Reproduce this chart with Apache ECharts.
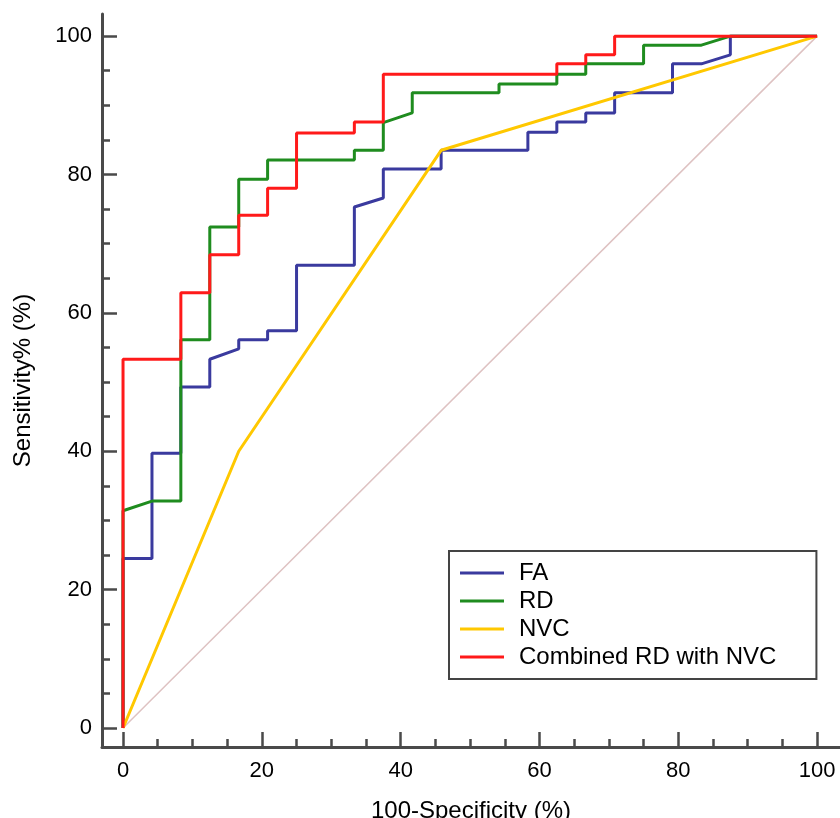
<!DOCTYPE html>
<html>
<head>
<meta charset="utf-8">
<script src="https://cdn.jsdelivr.net/npm/echarts@6/dist/echarts.min.js"></script>
<style>
  html, body { margin: 0; padding: 0; background: #fff; }
  #chart { width: 840px; height: 818px; }
</style>
</head>
<body>
<div id="chart"></div>
<script>
// ROC curves: [100-Specificity, Sensitivity] corner points
var seriesNames = ['FA', 'RD', 'NVC', 'Combined RD with NVC'];
var faPoints = [[0,0],[0,24.5],[4.17,24.5],[4.17,39.7],[8.33,39.7],[8.33,49.3],[12.5,49.3],[12.5,53.3],
    [16.67,54.8],[16.67,56.1],[20.83,56.1],[20.83,57.4],[25,57.4],[25,66.9],[33.33,66.9],[33.33,75.3],
    [37.5,76.6],[37.5,80.8],[45.83,80.8],[45.83,83.5],[58.33,83.5],[58.33,86.1],[62.5,86.1],[62.5,87.6],
    [66.67,87.6],[66.67,88.9],[70.83,88.9],[70.83,91.8],[79.17,91.8],[79.17,96],[83.33,96],[87.5,97.3],
    [87.5,100],[100,100]];
var rdPoints = [[0,0],[0,31.4],[4.17,32.8],[8.33,32.8],[8.33,56.1],[12.5,56.1],[12.5,72.4],[16.67,72.4],
    [16.67,79.3],[20.83,79.3],[20.83,82.1],[33.33,82.1],[33.33,83.5],[37.5,83.5],[37.5,87.5],[41.67,88.9],
    [41.67,91.8],[54.17,91.8],[54.17,93.1],[62.5,93.1],[62.5,94.5],[66.67,94.5],[66.67,96],[75,96],
    [75,98.7],[83.33,98.7],[87.5,100],[100,100]];
var nvcPoints = [[0,0],[16.67,40],[45.83,83.5],[100,100]];
var combinedPoints = [[0,0],[0,53.3],[8.33,53.3],[8.33,62.9],[12.5,62.9],[12.5,68.4],[16.67,68.4],
    [16.67,74.1],[20.83,74.1],[20.83,78],[25,78],[25,86],[33.33,86],[33.33,87.6],[37.5,87.6],[37.5,94.5],
    [62.5,94.5],[62.5,96],[66.67,96],[66.67,97.3],[70.83,97.3],[70.83,100],[100,100]];
var diagonalPoints = [[0,0],[100,100]];

var majorTicks = [0, 20, 40, 60, 80, 100];
var minorTicks = [5, 10, 15, 25, 30, 35, 45, 50, 55, 65, 70, 75, 85, 90, 95];
var colors = ['#3a3a9e', '#1f8c1f', '#ffc800', '#ff1a1a'];

var axisColor = '#4a4a4a';
var fontFamily = '"Liberation Sans", Arial, sans-serif';

function majorAxis(isX) {
    return {
        type: 'value',
        position: isX ? 'bottom' : 'left',
        min: isX ? -3.03 : -2.75,
        max: isX ? 103.3 : 103.2,
        name: isX ? '100-Specificity (%)' : 'Sensitivity% (%)',
        nameLocation: 'middle',
        nameGap: isX ? 52 : 67,
        nameTextStyle: { color: '#000', fontSize: 24, fontFamily: fontFamily },
        axisLine: { show: true, onZero: false, lineStyle: { color: axisColor, width: 3 } },
        axisTick: { show: true, inside: true, length: 15, customValues: majorTicks,
            lineStyle: { color: axisColor, width: 2.5 } },
        axisLabel: { customValues: majorTicks, margin: isX ? 13 : 10, color: '#000',
            fontSize: 22, fontFamily: fontFamily },
        splitLine: { show: false }
    };
}
function minorAxis(isX) {
    return {
        type: 'value',
        position: isX ? 'bottom' : 'left',
        min: isX ? -3.03 : -2.75,
        max: isX ? 103.3 : 103.2,
        axisLine: { show: false, onZero: false },
        axisTick: { show: true, inside: true, length: 8, customValues: minorTicks,
            lineStyle: { color: axisColor, width: 2.5 } },
        axisLabel: { show: false },
        splitLine: { show: false }
    };
}

function curve(name, points, color) {
    return {
        name: name,
        type: 'line',
        data: points,
        symbol: 'none',
        lineStyle: { color: color, width: 3 },
        itemStyle: { color: color },
        animation: false
    };
}

var chart = echarts.init(document.getElementById('chart'));
chart.setOption({
    backgroundColor: '#fff',
    animation: false,
    grid: { left: 102, right: 0, top: 14, bottom: 71, outerBoundsMode: 'none' },
    xAxis: [majorAxis(true), minorAxis(true)],
    yAxis: [majorAxis(false), minorAxis(false)],
    legend: {
        data: seriesNames.map(function (n) { return { name: n, icon: 'rect' }; }),
        orient: 'vertical',
        left: 449,
        top: 551,
        itemWidth: 44,
        itemHeight: 3,
        itemGap: 4,
        padding: [10, 40, 10, 11],
        borderColor: '#444',
        borderWidth: 2,
        backgroundColor: '#fff',
        textStyle: { color: '#000', fontSize: 24, fontFamily: fontFamily, padding: [0, 0, 0, 10] }
    },
    series: [
        {
            type: 'line',
            data: diagonalPoints,
            symbol: 'none',
            silent: true,
            lineStyle: { color: '#dec2c2', width: 1.5 }
        },
        curve(seriesNames[0], faPoints, colors[0]),
        curve(seriesNames[1], rdPoints, colors[1]),
        curve(seriesNames[2], nvcPoints, colors[2]),
        curve(seriesNames[3], combinedPoints, colors[3])
    ]
});
</script>
</body>
</html>
